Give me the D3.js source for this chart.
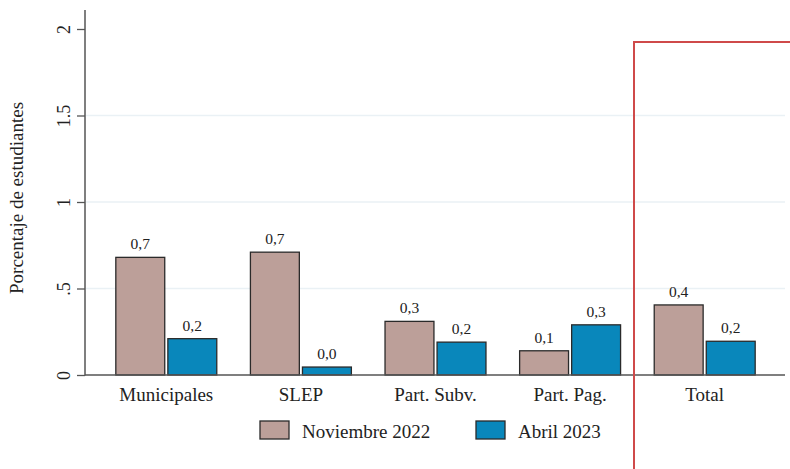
<!DOCTYPE html>
<meta charset="utf-8">
<script src="https://d3js.org/d3.v7.min.js"></script>
<style>
  body { margin: 0; background: #fff; }
  text { font-family: "Liberation Serif", "Times New Roman", serif; fill: #222; }
</style>
<div id="my_dataviz"></div>
<script>
// data
var categories = ["Municipales", "SLEP", "Part. Subv.", "Part. Pag.", "Total"];
var series = ["Noviembre 2022", "Abril 2023"];
var nov2022 = [0.68, 0.71, 0.31, 0.14, 0.405];
var abr2023 = [0.21, 0.046, 0.19, 0.29, 0.195];
var labelsNov = ["0,7", "0,7", "0,3", "0,1", "0,4"];
var labelsAbr = ["0,2", "0,0", "0,2", "0,3", "0,2"];
var yTicks = [0, 0.5, 1, 1.5, 2];
var yTickLabels = ["0", ".5", "1", "1.5", "2"];
var colors = ["#bc9f99", "#0987bb"];

var W = 790, H = 469;
var svg = d3.select("#my_dataviz").append("svg")
  .attr("width", W).attr("height", H);

var rows = categories.map(function(c, i) {
  return {cat: c, vals: [
    {s: 0, v: nov2022[i], lab: labelsNov[i]},
    {s: 1, v: abr2023[i], lab: labelsAbr[i]}
  ]};
});

var x = d3.scaleBand().domain(categories).range([99, 772])
  .paddingInner(0.25).paddingOuter(0.125);
var xs = d3.scaleBand().domain([0, 1]).range([0, x.bandwidth()]).paddingInner(0.06);
var y = d3.scaleLinear().domain([0, 2]).range([375, 29]);

// gridlines
svg.append("g").selectAll("line")
  .data(yTicks.filter(function(d){ return d > 0 && d < 2; }))
  .enter().append("line")
  .attr("x1", 86).attr("x2", 785)
  .attr("y1", function(d){ return y(d); }).attr("y2", function(d){ return y(d); })
  .attr("stroke", "#eaf1f5").attr("stroke-width", 1.5);

// y axis
var yAxis = svg.append("g").attr("transform", "translate(85,0)")
  .call(d3.axisLeft(y).tickValues(yTicks).tickSize(8)
    .tickFormat(function(d, i){ return yTickLabels[i]; }));
yAxis.select(".domain").remove();
yAxis.selectAll(".tick line").attr("stroke", "#555").attr("stroke-width", 1.3);
yAxis.selectAll(".tick text")
  .attr("font-size", 18)
  .attr("fill", "#222")
  .attr("transform", "rotate(-90)")
  .attr("x", 0).attr("y", -15).attr("dy", "0")
  .attr("text-anchor", "middle");
svg.append("line").attr("x1", 85).attr("x2", 85).attr("y1", 10).attr("y2", 375.5)
  .attr("stroke", "#555").attr("stroke-width", 1.5);

svg.append("text")
  .attr("transform", "translate(23," + (y(1) - 4) + ") rotate(-90)")
  .attr("text-anchor", "middle").attr("font-size", 19)
  .text("Porcentaje de estudiantes");

// bars
var groups = svg.append("g").selectAll("g").data(rows).enter().append("g")
  .attr("transform", function(d){ return "translate(" + x(d.cat) + ",0)"; });

groups.selectAll("rect").data(function(d){ return d.vals; }).enter().append("rect")
  .attr("x", function(d){ return xs(d.s); })
  .attr("width", xs.bandwidth())
  .attr("y", function(d){ return y(d.v); })
  .attr("height", function(d){ return y(0) - y(d.v); })
  .attr("fill", function(d){ return colors[d.s]; })
  .attr("stroke", "#2a2a2a").attr("stroke-width", 1.3);

groups.selectAll("text").data(function(d){ return d.vals; }).enter().append("text")
  .attr("x", function(d){ return xs(d.s) + xs.bandwidth() / 2; })
  .attr("y", function(d){ return y(d.v) - 8; })
  .attr("text-anchor", "middle").attr("font-size", 15.5)
  .text(function(d){ return d.lab; });

// x axis
svg.append("line").attr("x1", 85).attr("x2", 785).attr("y1", 375).attr("y2", 375)
  .attr("stroke", "#555").attr("stroke-width", 1.5);
svg.append("g").selectAll("text").data(categories).enter().append("text")
  .attr("x", function(d){ return x(d) + x.bandwidth() / 2; })
  .attr("y", 401).attr("text-anchor", "middle").attr("font-size", 19)
  .text(function(d){ return d; });

// legend
var legX = [260, 476];
var leg = svg.append("g").selectAll("g").data(series).enter().append("g")
  .attr("transform", function(d, i){ return "translate(" + legX[i] + ",421)"; });
leg.append("rect").attr("width", 29).attr("height", 18)
  .attr("fill", function(d, i){ return colors[i]; })
  .attr("stroke", "#2a2a2a").attr("stroke-width", 1.3);
leg.append("text").attr("x", 42).attr("y", 17).attr("font-size", 19)
  .text(function(d){ return d; });

// highlight box around Total
svg.append("path")
  .attr("d", "M634,469 L634,42 L790,42")
  .attr("fill", "none").attr("stroke", "#cf4a4a").attr("stroke-width", 2);
</script>
